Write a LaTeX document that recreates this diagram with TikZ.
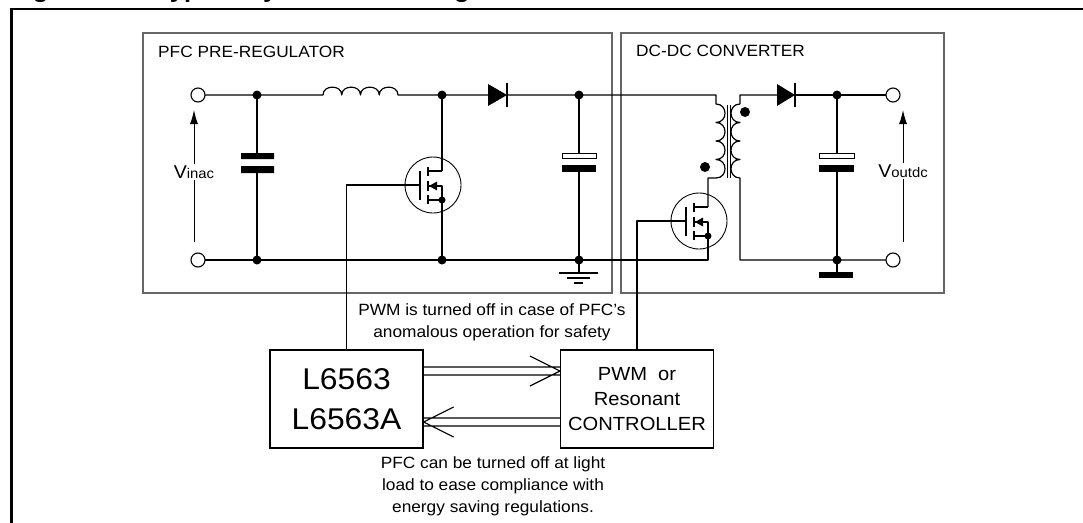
\documentclass[tikz,border=0pt]{standalone}
\usepackage{fontspec}
\setmainfont{Liberation Sans}[FakeStretch=1.06]
\usetikzlibrary{arrows.meta,calc}

\tikzset{
  wire/.style={line width=1.2pt, line join=round},
  section/.style={draw=black!60, line width=1.2pt},
  joint/.style={circle, fill, inner sep=0pt, minimum size=9pt},
  term/.style={circle, draw, fill=white, line width=1.1pt, inner sep=0pt, minimum size=14pt},
  ic/.style={draw, line width=1.2pt, minimum width=153pt, minimum height=98pt, align=center},
  note/.style={align=center, inner sep=0pt, font=\fontsize{16.3}{22}\selectfont},
  title/.style={anchor=base west, inner sep=0pt, font=\fontsize{16.3}{20}\selectfont},
  vsense/.style={line width=1pt, -{Latex[length=14pt, width=8pt]}},
  dbl/.style={to path={
      ([yshift=4pt]\tikztostart) -- ([yshift=4pt]\tikztotarget)
      ([yshift=-4pt]\tikztostart) -- ([yshift=-4pt]\tikztotarget)
      ([xshift=#1pt, yshift=15pt]\tikztotarget) -- (\tikztotarget)
        -- ([xshift=#1pt, yshift=-15pt]\tikztotarget)}},
  nmos/.pic={
    \draw[line width=0.9pt] (0,0) circle[radius=28];
    \draw[wire] (-13,-14) -- (-13,15);
    \foreach \a/\b in {-18/-9, -4/6, 10/19}
      \draw[wire] (-5,\a) -- (-5,\b);
    \draw[wire] (-5,-14) -- (9,-14);
    \draw[wire] (-5,1) -- (9,1) -- (9,15) -- (-5,15);
    \fill (-4,1) -- (4,-3.5) -- (4,5.5) -- cycle;
    \fill (9,15) circle[radius=3.5];
  }
}

\begin{document}
\begin{tikzpicture}[x=1pt, y=-1pt]
  \useasboundingbox (0,0) rectangle (1083,522);
  \clip (0,0) rectangle (1083,522);
  \fill[white] (0,0) rectangle (1083,522);

  % Caption and outer frame, cut by the page edge
  \node[anchor=base west, inner sep=0pt, font=\bfseries\fontsize{24}{28}\selectfont]
    (caption) at (10,-2) {\makebox[146pt][l]{Figure 1.}Typical system block diagram};
  \draw[line width=2.4pt] (11.5,540) -- (11.5,9.2) -- (1100,9.2);

  % Sections
  \draw[section] (143,33) rectangle (612,293);
  \draw[section] (621,33) rectangle (944,293);
  \node[title] (pfclabel) at (158,57) {PFC PRE-REGULATOR};
  \node[title] (dclabel) at (636,56) {DC-DC CONVERTER};

  % Input side
  \draw[vsense] (194,242) -- (194,110);
  \node[fill=white, inner sep=1.5pt, anchor=base] (vinac) at (194,178)
    {\fontsize{18.5}{20}\selectfont V\fontsize{14}{16}\selectfont inac};
  \draw[wire] (198,95) -- (323,95)
    \foreach \i in {1,...,4} { .. controls +(0,-10.5) and +(0,-10.5) .. ++(18.75,0) }
    -- (488,95);
  \draw[wire] (507,95) -- (716,95) -- (716,104)
    \foreach \i in {1,...,4} { .. controls +(12,0) and +(12,0) .. ++(0,18.5) }
    -- (708,178) -- (708,207);
  \draw[wire] (198,260) -- (708,260) -- (708,236);
  \draw[wire] (257,95) -- (257,153) (257,173) -- (257,260);
  \fill (241,153) rectangle (274,159) (241,166) rectangle (274,173);

  % Boost switch and diode
  \pic at (433,185) {nmos};
  \draw[wire] (442,95) -- (442,171) (442,200) -- (442,260);
  \fill (488,84) -- (507,95) -- (488,106) -- cycle;
  \draw[wire] (507,83) -- (507,107);

  % Bulk capacitor and ground
  \draw[wire] (579,95) -- (579,153) (579,172) -- (579,273);
  \draw[line width=1pt, fill=white] (562,153) rectangle (596,158);
  \fill (562,165) rectangle (596,172);
  \draw[wire] (559,273) -- (598,273) (567,278) -- (590,278) (574,283) -- (583,283);

  % Transformer
  \draw[line width=1pt] (727,105) -- (727,178) (730.5,105) -- (730.5,178);
  \draw[wire] (777,95) -- (740,95) -- (740,104)
    \foreach \i in {1,...,4} { .. controls +(-12,0) and +(-12,0) .. ++(0,18.5) }
    -- (740,260) -- (893,260);
  \fill (705,167) circle[radius=5] (745,112) circle[radius=5];
  \pic at (699,221) {nmos};

  % Output side
  \fill (777,84) -- (795,95) -- (777,106) -- cycle;
  \draw[wire] (795,83) -- (795,107) (795,95) -- (893,95);
  \draw[wire] (837,95) -- (837,153) (837,172) -- (837,272);
  \draw[line width=1pt, fill=white] (819,153) rectangle (854,158);
  \fill (819,165) rectangle (854,172);
  \fill (819,272) rectangle (853,278);
  \draw[vsense] (903,242) -- (903,110);
  \node[fill=white, inner sep=1.5pt, anchor=base] (voutdc) at (903,177)
    {\fontsize{18.5}{20}\selectfont V\fontsize{14}{16}\selectfont outdc};

  % Junctions and terminals
  \foreach \x/\y in {257/95, 257/260, 442/95, 442/260, 579/95, 579/260, 837/95, 837/260}
    \node[joint] at (\x,\y) {};
  \foreach \x/\y in {198/95, 198/260, 893/95, 893/260}
    \node[term] at (\x,\y) {};

  % Controllers
  \node[ic, font=\fontsize{30}{41}\selectfont] (pfcic) at (346.5,399) {L6563\\[-1pt]L6563A};
  \node[ic, font=\fontsize{19}{25}\selectfont] (pwmic) at (637,399) {PWM\ \ or\\Resonant\\CONTROLLER};
  \coordinate (g1) at (420,185);
  \coordinate (g2) at (686,221);
  \draw[wire] (g1) -| (pfcic.north);
  \draw[wire] (g2) -| (pwmic.north);

  % Links between the two controllers
  \coordinate (fwdA) at ($(pfcic.east)+(0,-28)$);
  \coordinate (fwdB) at ($(pwmic.west)+(0,-28)$);
  \coordinate (backA) at ($(pwmic.west)+(0,23)$);
  \coordinate (backB) at ($(pfcic.east)+(0,23)$);
  \draw[wire] (fwdA) to[dbl=-30] (fwdB);
  \draw[wire] (backA) to[dbl=30] (backB);

  \node[note] (offnote) at (492,322) {PWM is turned off in case of PFC’s\\anomalous operation for safety};
  \node[note] (lightnote) at (493,486) {PFC can be turned off at light\\load to ease compliance with\\energy saving regulations.};
\end{tikzpicture}
\end{document}
